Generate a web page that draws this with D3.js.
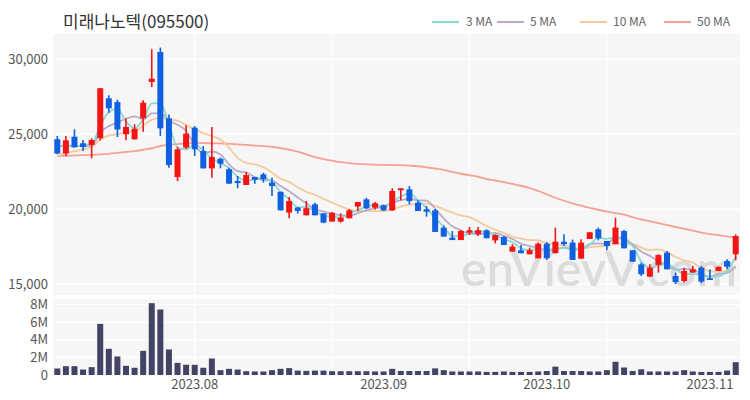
<!DOCTYPE html>
<html><head><meta charset="utf-8">
<script src="https://cdn.jsdelivr.net/npm/d3@7"></script>
<style>body{margin:0;background:#fff}svg{display:block}</style>
</head><body>
<svg id="c" width="750" height="400"></svg>
<script>
const dates = [
"2023-07-10","2023-07-11","2023-07-12","2023-07-13","2023-07-14","2023-07-17","2023-07-18","2023-07-19","2023-07-20","2023-07-21",
"2023-07-24","2023-07-25","2023-07-26","2023-07-27","2023-07-28","2023-07-31",
"2023-08-01","2023-08-02","2023-08-03","2023-08-04","2023-08-07","2023-08-08","2023-08-09","2023-08-10","2023-08-11","2023-08-14",
"2023-08-16","2023-08-17","2023-08-18","2023-08-21","2023-08-22","2023-08-23","2023-08-24","2023-08-25","2023-08-28","2023-08-29","2023-08-30","2023-08-31",
"2023-09-01","2023-09-04","2023-09-05","2023-09-06","2023-09-07","2023-09-08","2023-09-11","2023-09-12","2023-09-13","2023-09-14","2023-09-15",
"2023-09-18","2023-09-19","2023-09-20","2023-09-21","2023-09-22","2023-09-25","2023-09-26","2023-09-27",
"2023-10-04","2023-10-05","2023-10-06","2023-10-10","2023-10-11","2023-10-12","2023-10-13","2023-10-16","2023-10-17","2023-10-18","2023-10-19","2023-10-20",
"2023-10-23","2023-10-24","2023-10-25","2023-10-26","2023-10-27","2023-10-30","2023-10-31",
"2023-11-01","2023-11-02","2023-11-03","2023-11-06"];
const open  = [24650,23700,24820,24380,24270,24720,27380,27130,24980,24650,26050,28470,30470,26050,22130,24090,25420,23870,22710,23350,
22650,21870,21600,22130,22310,21760,21150,19760,20090,19580,20310,19710,19160,19160,19380,20160,20640,20090,20250,19910,
21250,21310,20420,19980,19910,18760,18090,17930,18420,18310,18580,17910,18130,17160,17250,16980,16710,17690,17050,17820,
17760,16690,18000,18650,17870,17650,18530,17250,16310,15490,16270,17090,15530,15200,15760,16090,15380,15870,16530,16980];
const high  = [24870,24870,25310,24600,24710,28050,27580,27290,26050,25650,27250,30650,30760,26300,24130,25580,25530,24200,25470,23420,
22750,22200,22470,22130,22420,22090,21150,20800,20130,20530,20420,19710,19800,19710,20000,20470,20750,20470,20300,21380,
21380,21530,20580,20200,20000,18900,18530,18600,18800,18800,18650,18300,18200,17650,17600,17420,17760,17800,18760,18310,
17960,17990,18450,18760,17870,19420,18600,17250,16420,16310,16980,17200,15760,16090,16200,16200,15980,16150,16650,18310];
const low   = [23650,23530,24090,23870,23380,24580,26420,24800,24580,24620,25150,28130,24870,22750,21870,24000,23530,22700,22090,22710,
21690,21380,21600,21690,21760,20870,19910,19380,19690,19580,19580,19050,19160,19090,19380,19870,20000,19960,19870,19870,
20580,20310,19870,19490,18470,18160,17930,17930,18270,18200,18050,17710,17600,17160,17050,16980,16710,16600,17050,17530,
16600,16690,18000,17910,17250,17650,17380,16490,15530,15490,15760,15980,15000,15100,15760,15050,15270,15870,15980,16580];
const close = [23700,24580,24130,24130,24600,28050,26710,25300,25470,25350,27090,28690,25380,22930,23980,25020,23980,22710,23470,23020,
21690,21730,22270,21950,21980,21530,19910,20530,19870,20050,19580,19090,19750,19420,19910,20470,20050,20380,19910,21200,
21380,20530,19870,19820,18470,18160,17930,18530,18580,18580,18050,18270,17600,17490,17050,17250,17690,16710,17820,17650,
16600,17760,18450,18050,17530,18760,17380,16490,15650,16090,16930,15980,15130,15870,15980,15160,15270,16150,16150,18200];
const volume = [0.74,1.0,1.0,0.62,0.89,5.8,2.97,2.1,1.04,0.82,2.74,8.15,7.43,2.9,1.38,1.16,1.16,0.82,1.87,0.55,
0.7,0.62,0.43,0.4,0.4,0.55,0.7,0.78,0.5,0.47,0.5,0.5,0.43,0.43,0.43,0.43,0.43,0.4,0.4,0.7,
0.45,0.45,0.45,0.45,0.75,0.55,0.4,0.4,0.4,0.4,0.35,0.35,0.4,0.35,0.35,0.35,0.4,0.45,0.95,0.45,
0.45,0.45,0.4,0.4,0.55,1.5,0.85,0.45,0.65,0.4,0.4,0.4,0.4,0.55,0.4,0.35,0.35,0.35,0.5,1.45].map(v=>v*1e6);
// closes of the 9 sessions before the first shown candle (for the short moving averages)
const priorCloses = [22700,22800,22900,23000,23150,24100,24260,24300,24390];
const ma50 = [23530,23550,23570,23590,23610,23640,23680,23740,23800,23860,23950,24050,24200,24280,24330,24370,24390,24390,24380,24370,
24340,24310,24270,24230,24190,24150,24060,23950,23820,23640,23460,23330,23220,23120,23060,23010,22980,22950,22940,22930,
22920,22890,22850,22780,22700,22610,22470,22350,22250,22150,22000,21900,21790,21670,21550,21400,21200,20980,20750,20550,
20380,20220,20080,19950,19830,19720,19620,19450,19300,19180,19060,18930,18800,18680,18560,18430,18330,18260,18180,18120];
const priceTicks = [15000,20000,25000,30000];
const volTicks = [0,2e6,4e6,6e6,8e6];
const monthTicks = ["2023-08-01","2023-09-01","2023-10-04","2023-11-01"];
const gridIdx = [16,32,48,64];
const maNames = ["3 MA","5 MA","10 MA","50 MA"];
const maColors = ["#8ad9d3","#b9abc9","#f4cb9e","#f5a294"];

const svg = d3.select("#c");
const FONT = "'Noto Sans CJK KR','Noto Sans',sans-serif";
const L = 53, R = 740;
const x = d3.scaleBand().domain(dates).range([L, R]).padding(0);
const cx = d => x(d) + x.bandwidth()/2;
const y = d3.scaleLinear().domain([15000,30000]).range([284,59]);
const yv = d3.scaleLinear().domain([0,8e6]).range([375,304.5]);
const P1 = {t:34, b:295}, P2 = {t:299, b:376};

// panels
svg.append("rect").attr("x",L).attr("y",P1.t).attr("width",R-L).attr("height",P1.b-P1.t).attr("fill","#f6f6f6");
svg.append("rect").attr("x",L).attr("y",P2.t).attr("width",R-L).attr("height",P2.b-P2.t).attr("fill","#f6f6f6");

// grid
const g = svg.append("g").attr("stroke","#ffffff").attr("stroke-width",1.2);
priceTicks.forEach(t=>g.append("line").attr("x1",L).attr("x2",R).attr("y1",y(t)).attr("y2",y(t)));
volTicks.forEach(t=>g.append("line").attr("x1",L).attr("x2",R).attr("y1",yv(t)).attr("y2",yv(t)));
gridIdx.forEach(i=>{
  const xx = cx(dates[i]);
  g.append("line").attr("x1",xx).attr("x2",xx).attr("y1",P1.t).attr("y2",P1.b);
  g.append("line").attr("x1",xx).attr("x2",xx).attr("y1",P2.t).attr("y2",P2.b);
});

// watermark
svg.append("text").attr("x",461).attr("y",286).attr("font-family","Lato,'Open Sans',sans-serif")
  .attr("font-weight",600).attr("font-size",48).attr("fill","#dcdcdc").attr("textLength",276).attr("lengthAdjust","spacingAndGlyphs")
  .text("enVievV.com");

// axes
const yAxis = d3.axisLeft(y).tickValues(priceTicks).tickFormat(d3.format(",")).tickSize(0).tickPadding(4);
svg.append("g").attr("transform",`translate(${L-1},0)`).call(yAxis).call(s=>s.select(".domain").remove())
  .selectAll("text").attr("font-family",FONT).attr("font-size",13).attr("fill","#555");
const vAxis = d3.axisLeft(yv).tickValues(volTicks).tickFormat(d=>d===0?"0":(d/1e6)+"M").tickSize(0).tickPadding(4);
svg.append("g").attr("transform",`translate(${L-1},0)`).call(vAxis).call(s=>s.select(".domain").remove())
  .selectAll("text").attr("font-family",FONT).attr("font-size",13).attr("fill","#555");
const xAxis = d3.axisBottom(x).tickValues(monthTicks).tickFormat(d=>d.slice(0,7).replace("-",".")).tickSize(0).tickPadding(4);
svg.append("g").attr("transform",`translate(0,${P2.b})`).call(xAxis).call(s=>s.select(".domain").remove())
  .selectAll("text").attr("font-family",FONT).attr("font-size",13).attr("fill","#555");

// volume bars
const bw = 6;
svg.append("g").selectAll("rect").data(dates).join("rect")
  .attr("x",d=>cx(d)-bw/2).attr("width",bw)
  .attr("y",(d,i)=>yv(volume[i])).attr("height",(d,i)=>yv(0)-yv(volume[i]))
  .attr("fill","#434366");

// moving averages
const all = priorCloses.concat(close);
const off = priorCloses.length;
function ma(n){ return close.map((c,i)=>d3.mean(all.slice(off+i-n+1, off+i+1))); }
const maSeries = [ma(3), ma(5), ma(10), ma50];
const line = d3.line().x((v,i)=>cx(dates[i])).y(v=>y(v)).curve(d3.curveMonotoneX);
[3,2,1,0].forEach(k=>{
  svg.append("path").attr("d",line(maSeries[k])).attr("fill","none")
    .attr("stroke",maColors[k]).attr("stroke-width",1.8);
});

// candles
const up = "#f31515", dn = "#1060e0";
const cg = svg.append("g");
dates.forEach((d,i)=>{
  const col = close[i] >= open[i] ? up : dn;
  const xx = cx(d);
  cg.append("line").attr("x1",xx).attr("x2",xx).attr("y1",y(high[i])).attr("y2",y(low[i]))
    .attr("stroke",col).attr("stroke-width",1.6);
  const top = y(Math.max(open[i],close[i])), bot = y(Math.min(open[i],close[i]));
  cg.append("rect").attr("x",xx-bw/2).attr("width",bw).attr("y",top).attr("height",Math.max(1.2,bot-top)).attr("fill",col);
});

// title
svg.append("text").attr("x",63).attr("y",28).attr("font-family",FONT).attr("font-size",17).attr("fill","#333")
  .text("미래나노텍(095500)");

// legend
const legX = [432,497,580,664], txX = [466,530,613,697];
maNames.forEach((n,k)=>{
  svg.append("line").attr("x1",legX[k]).attr("x2",legX[k]+27).attr("y1",22).attr("y2",22)
    .attr("stroke",maColors[k]).attr("stroke-width",2);
  svg.append("text").attr("x",txX[k]).attr("y",26).attr("font-family",FONT).attr("font-size",12)
    .attr("fill","#666").text(n);
});
</script>
</body></html>
